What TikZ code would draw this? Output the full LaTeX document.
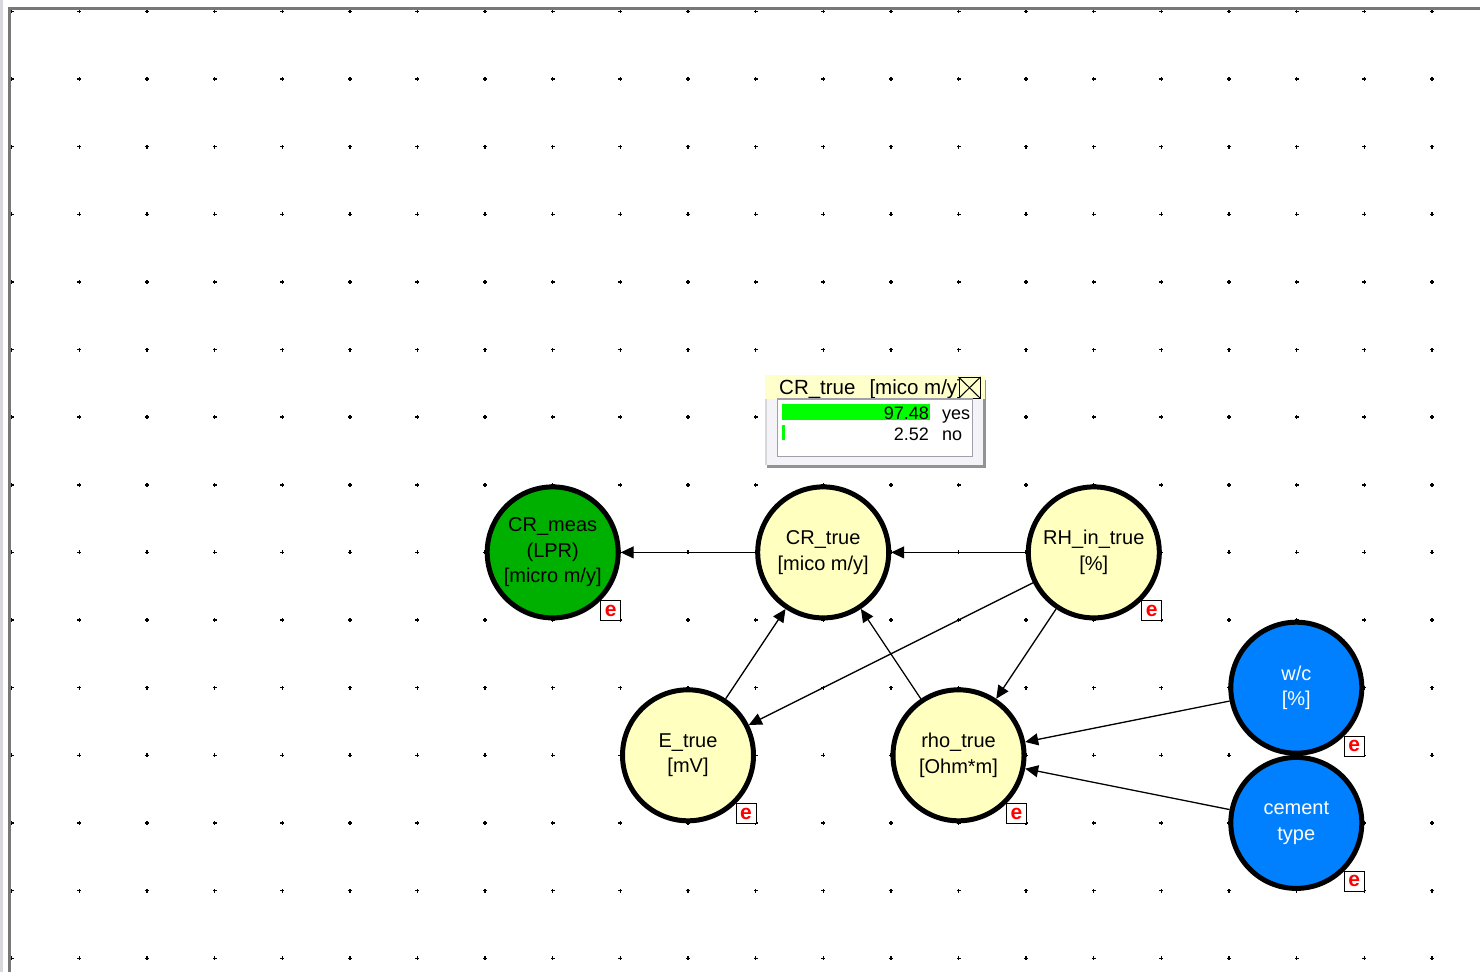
\documentclass[tikz,border=0pt]{standalone}
\usepackage{fontspec}
\setmainfont{Liberation Sans}
\usetikzlibrary{arrows.meta}

\definecolor{chanceyellow}{RGB}{255,255,192}
\definecolor{measgreen}{RGB}{0,176,0}
\definecolor{rootblue}{RGB}{0,128,255}
\definecolor{bargreen}{RGB}{0,255,0}
\definecolor{titleyellow}{RGB}{255,255,204}
\definecolor{panelbg}{RGB}{244,244,248}
\definecolor{panelrule}{RGB}{160,160,172}
\definecolor{framedark}{RGB}{120,120,120}
\definecolor{framelight}{RGB}{215,215,220}

\begin{document}
\begin{tikzpicture}[x=1pt,y=-1pt,
  bn/.style={circle, draw=black, line width=5pt, minimum size=131pt,
    inner sep=0pt, align=center, font=\fontsize{20}{25.5}\selectfont},
  chance/.style={bn, fill=chanceyellow},
  measured/.style={bn, fill=measgreen},
  root/.style={bn, fill=rootblue, text=white},
  evid/.style={draw=black, line width=1pt, fill=white, minimum size=20pt,
    inner sep=0pt, text=red, font=\fontsize{21}{21}\selectfont\bfseries},
  link/.style={line width=1.3pt, -{Triangle[length=13pt,width=12pt]}},
  montext/.style={inner sep=0pt, font=\fontsize{18}{18}\selectfont}
]
\useasboundingbox (0,0) rectangle (1480,972);
\fill[white] (0,0) rectangle (1480,972);

% grid of plus-shaped dots
\foreach \i in {0,...,21}{
  \foreach \j in {0,...,14}{
    \pgfmathsetmacro{\gx}{11.7+67.63*\i}
    \pgfmathsetmacro{\gy}{11.4+67.63*\j}
    \fill[black] (\gx-2,\gy-0.7) rectangle (\gx+2,\gy+0.7);
    \fill[black] (\gx-0.7,\gy-2) rectangle (\gx+0.7,\gy+2);
  }
}

% window frame
\fill[framelight] (0,0) rectangle (2.5,972);
\fill[framedark] (7.5,7) rectangle (11,972);
\fill[framedark] (7.5,6.5) rectangle (1480,10);

% network nodes
\node[measured] (meas) at (552.7,552.4) {CR\_meas\\(LPR)\\{}[micro m/y]};
\node[chance] (crtrue) at (823.2,552.4) {CR\_true\\{}[mico m/y]};
\node[chance] (rh) at (1093.8,552.4) {RH\_in\_true\\{}[\%]};
\node[chance] (etrue) at (688.0,755.3) {E\_true\\{}[mV]};
\node[chance] (rho) at (958.5,755.3) {rho\_true\\{}[Ohm*m]};
\node[root] (wc) at (1296.3,687.7) {w/c\\{}[\%]};
\node[root] (cement) at (1296.3,822.9) {cement\\type};

% evidence markers
\foreach \n in {meas,rh,etrue,rho,wc,cement}{
  \node[evid] (\n-e) at ([shift={(58pt,-58.5pt)}]\n.center) {e};
}

% links
\draw[link] (crtrue) -- (meas);
\draw[link] (rh) -- (crtrue);
\draw[link] (rh) -- (etrue);
\draw[link] (rh) -- (rho);
\draw[link] (etrue) -- (crtrue);
\draw[link] (rho) -- (crtrue);
\draw[link] (wc) -- (rho);
\draw[link] (cement) -- (rho);

% monitor window for CR_true
\fill[panelbg] (765,375) rectangle (983,465);
\fill[framedark!80] (983,380) rectangle (986,468);
\fill[framedark!80] (767,465) rectangle (986,468);
\fill[framelight] (765,398) rectangle (767,465);
\fill[titleyellow] (765,375) rectangle (985,398.5);
\begin{scope}
  \clip (765,375) rectangle (958.5,398.5);
  \node[inner sep=0pt, anchor=base west, font=\fontsize{20.5}{20.5}\selectfont]
    (montitle) at (779,394.5) {CR\_true\hspace{14pt}[mico m/y]};
\end{scope}
\node[draw=black, line width=1pt, fill=titleyellow, minimum width=21pt,
  minimum height=20.5pt, inner sep=0pt] (monclose) at (969.5,387.75) {};
\draw[line width=1pt] (monclose.north west) -- (monclose.south east)
  (monclose.north east) -- (monclose.south west);
\draw[panelrule, line width=1.3pt, fill=white] (777.5,399) rectangle (972.5,456.5);
\fill[bargreen] (782,404) rectangle (930,420);
\fill[bargreen] (782,425) rectangle (785,440);
\node[montext, anchor=base east] (yesval) at (929,419.5) {97.48};
\node[montext, anchor=base west] (yeslab) at (942,419.5) {yes};
\node[montext, anchor=base east] (noval) at (929,440.5) {2.52};
\node[montext, anchor=base west] (nolab) at (942,440.5) {no};
\end{tikzpicture}
\end{document}
